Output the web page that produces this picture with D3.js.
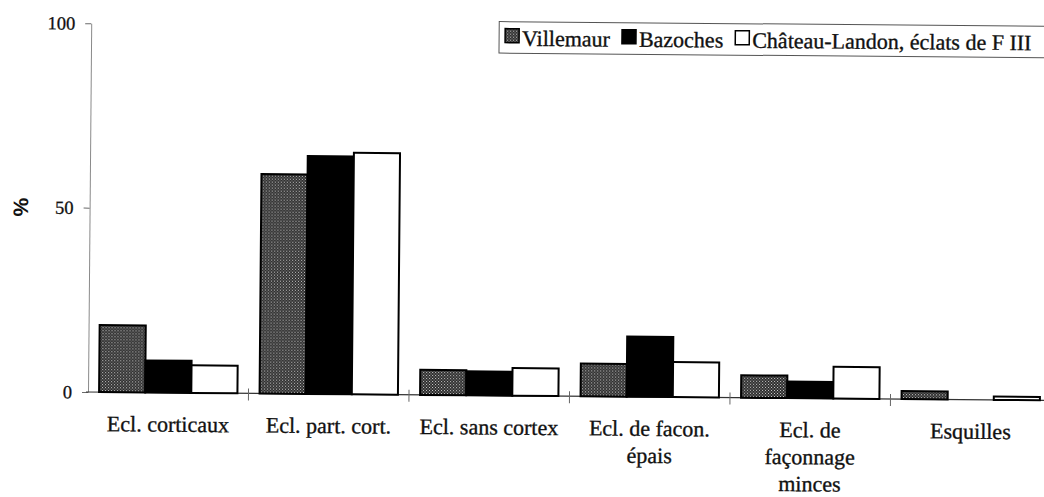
<!DOCTYPE html>
<html>
<head>
<meta charset="utf-8">
<script src="https://cdn.jsdelivr.net/npm/d3@7"></script>
<style>
  html, body { margin: 0; padding: 0; background: #fff; }
  svg { display: block; }
</style>
</head>
<body>
<script>
// ---- data ----
const categories = ["Ecl. corticaux", "Ecl. part. cort.", "Ecl. sans cortex", "Ecl. de facon.\népais", "Ecl. de\nfaçonnage\nminces", "Esquilles"];
const seriesNames = ["Villemaur", "Bazoches", "Château-Landon, éclats de F III"];
const villemaur = [18.2, 59.5, 6.8, 8.9, 6.1, 2.2];
const bazoches  = [8.7, 64.5, 6.5, 16.3, 4.5, 0];
const chateau   = [7.5, 65.5, 7.5, 9.5, 8.6, 0.9];
const yTicks = [0, 50, 100];
const yLabel = "%";

const seriesValues = [villemaur, bazoches, chateau];
const fills = ["url(#dots)", "#000", "#fff"];

const W = 1044, H = 497;
const svg = d3.select("body").append("svg").attr("width", W).attr("height", H);

const defs = svg.append("defs");
const pat = defs.append("pattern").attr("id", "dots")
  .attr("patternUnits", "userSpaceOnUse").attr("width", 3).attr("height", 3);
pat.append("rect").attr("width", 3).attr("height", 3).attr("fill", "#2a2a2a");
pat.append("rect").attr("x", 0).attr("y", 0).attr("width", 1).attr("height", 1).attr("fill", "#d0d0d0");
pat.append("rect").attr("x", 1.5).attr("y", 1.5).attr("width", 1).attr("height", 1).attr("fill", "#c0c0c0");

// slight scan tilt of the original
const g = svg.append("g").attr("transform", "rotate(0.5,88,392)");

const x = d3.scaleBand().domain(categories).range([88, 1051]).paddingInner(0).paddingOuter(0);
const xs = d3.scaleBand().domain(seriesNames).range([0, x.bandwidth()]).paddingInner(0).paddingOuter(0.24);
const y = d3.scaleLinear().domain([0, 100]).range([392, 23.3]);

const serif = "'Liberation Serif', 'Times New Roman', serif";

// y axis
const yAxis = g.append("g").attr("transform", "translate(88,0)")
  .call(d3.axisLeft(y).tickValues(yTicks).tickSize(6).tickSizeOuter(0).tickPadding(10).tickFormat(d3.format("d")));
yAxis.select(".domain").attr("stroke", "#8a8a8a").attr("stroke-width", 1);
yAxis.selectAll(".tick line").attr("stroke", "#6a6a6a");
yAxis.selectAll(".tick text").attr("fill", "#111").attr("stroke", "#111").attr("stroke-width", 0.3)
  .style("font-family", serif).style("font-size", "18.5px");

// y label
g.append("text")
  .attr("transform", `translate(19,${(y(0) + y(100)) / 2 + 0}) rotate(-90)`)
  .attr("text-anchor", "middle").attr("dy", "0.35em")
  .style("font-family", "'Liberation Sans', Arial, sans-serif").style("font-weight", "bold").style("font-size", "21px")
  .attr("fill", "#111").text(yLabel);

// x axis line
g.append("line").attr("x1", 86).attr("x2", x.range()[1]).attr("y1", y(0)).attr("y2", y(0))
  .attr("stroke", "#333").attr("stroke-width", 1.2);
// category separator ticks
g.append("g").selectAll("line").data(categories.slice(1)).join("line")
  .attr("x1", d => x(d)).attr("x2", d => x(d))
  .attr("y1", y(0) - 5).attr("y2", y(0) + 7)
  .attr("stroke", "#666").attr("stroke-width", 1);

// bars
seriesNames.forEach((s, si) => {
  g.append("g").selectAll("rect").data(categories).join("rect")
    .attr("x", c => x(c) + xs(s))
    .attr("y", (c, i) => y(seriesValues[si][i]))
    .attr("width", xs.bandwidth())
    .attr("height", (c, i) => y(0) - y(seriesValues[si][i]))
    .attr("fill", fills[si])
    .attr("stroke", "#000").attr("stroke-width", 2);
});

// category labels
const lab = g.append("g").selectAll("text").data(categories).join("text")
  .attr("text-anchor", "middle")
  .style("font-family", serif).style("font-size", "22px").attr("fill", "#111")
  .attr("stroke", "#111").attr("stroke-width", 0.35);
lab.each(function (c) {
  const t = d3.select(this);
  c.split("\n").forEach((line, i) => {
    t.append("tspan").attr("x", x(c) + x.bandwidth() / 2).attr("y", 431 + i * 27).text(line);
  });
});

// legend
const leg = g.append("g");
leg.append("rect").attr("x", 496).attr("y", 18).attr("width", 620).attr("height", 31.5)
  .attr("fill", "#fff").attr("stroke", "#555").attr("stroke-width", 1);
let lx = 502;
seriesNames.forEach((s, si) => {
  leg.append("rect").attr("x", lx).attr("y", 25).attr("width", 14).attr("height", 14)
    .attr("fill", fills[si]).attr("stroke", "#000").attr("stroke-width", 1.5);
  lx += 17;
  const t = leg.append("text").attr("x", lx).attr("y", 42)
    .style("font-family", serif).style("font-size", "22px").attr("fill", "#111")
    .attr("stroke", "#111").attr("stroke-width", 0.35).text(s);
  lx += t.node().getComputedTextLength() + 12;
});
</script>
</body>
</html>
